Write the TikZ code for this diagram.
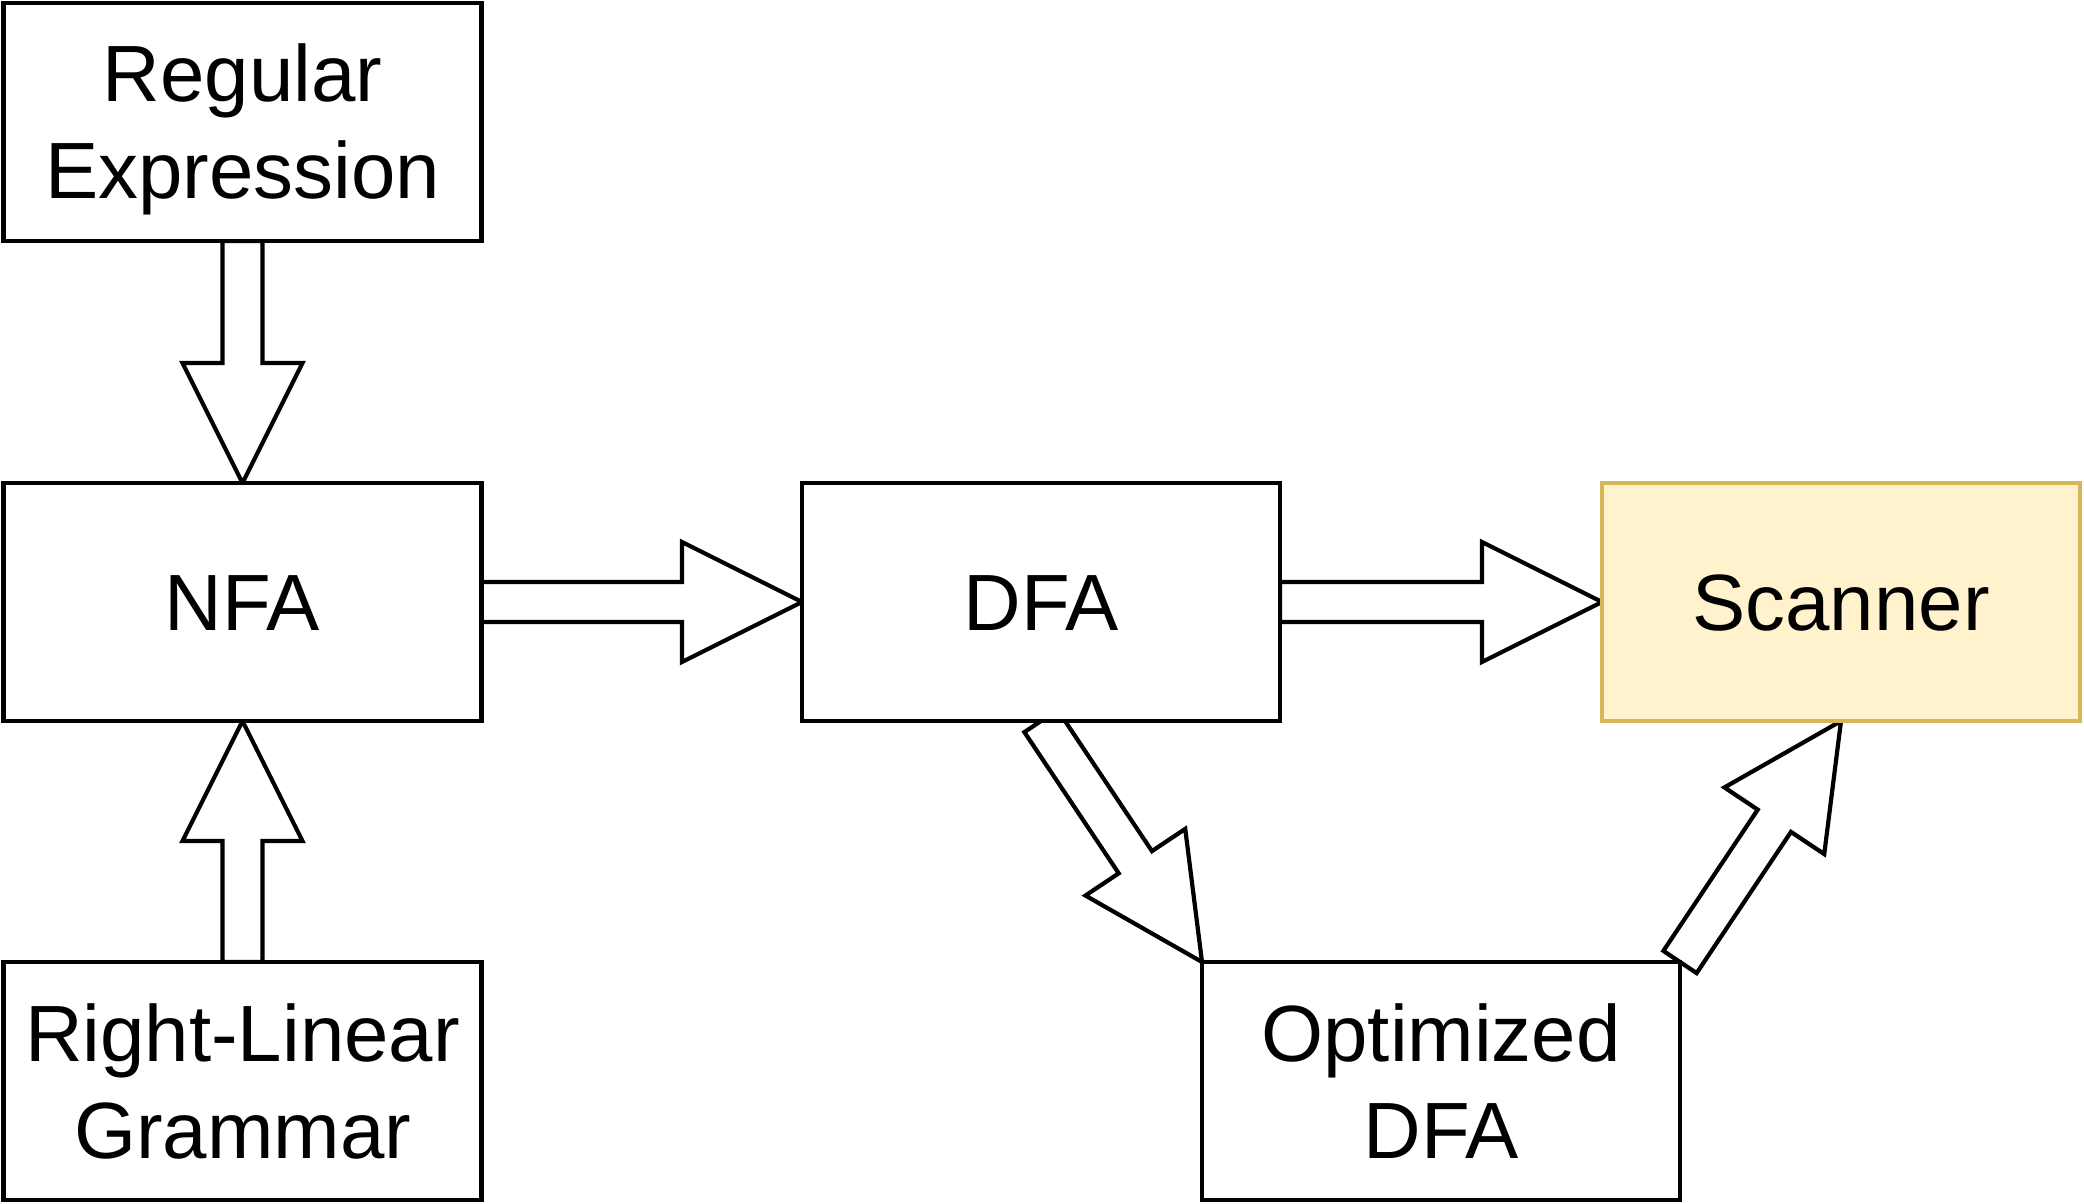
\documentclass[tikz,border=0pt]{standalone}
\usepackage{fontspec}
\setmainfont{Liberation Sans}
\usetikzlibrary{calc,backgrounds}
\definecolor{scanfill}{HTML}{FFF2CC}
\definecolor{scandraw}{HTML}{D6B656}
\tikzset{
  box/.style={draw=black, fill=white, line width=2.1pt, minimum width=239pt,
    minimum height=119pt, inner sep=0pt, outer sep=0pt,
    font=\fontsize{39.9pt}{48.5pt}\selectfont, text height=28.5pt, text depth=0pt},
  twoline/.style={text width=236pt, align=center, text depth=48.5pt},
  scanbox/.style={box, draw=scandraw, fill=scanfill},
  fatarr/.style={draw=black, fill=white, line width=2.1pt, line join=miter},
}
% block arrow from #1 to #2: shaft half width 10pt, head half width 30pt, head length 60pt
\newcommand\fatarrow[2]{%
  \coordinate (fah) at ($(#2)!60pt!(#1)$);
  \draw[fatarr] ($(#1)!10pt!90:(#2)$) -- ($(fah)!10pt!90:(#2)$) -- ($(fah)!30pt!90:(#2)$)
    -- (#2) -- ($(fah)!30pt!-90:(#2)$) -- ($(fah)!10pt!-90:(#2)$)
    -- ($(#1)!10pt!-90:(#2)$) -- cycle;
}
\begin{document}
\begin{tikzpicture}[x=0.5pt, y=-0.5pt]
  \useasboundingbox (0,0) rectangle (2084,1204);
  \node[box, twoline] (reg) at (242.5,122) {Regular\\Expression};
  \node[box] (nfa) at (242.5,602) {NFA};
  \node[box, twoline] (rlg) at (242.5,1081) {Right-Linear\\Grammar};
  \node[box] (dfa) at (1041,602) {DFA};
  \node[scanbox] (scan) at (1841,602) {Scanner};
  \node[box, twoline] (opt) at (1441,1081) {Optimized\\DFA};
  \begin{pgfonlayer}{background}
    \fatarrow{reg.south}{nfa.north}
    \fatarrow{rlg.north}{nfa.south}
    \fatarrow{nfa.east}{dfa.west}
    \fatarrow{dfa.east}{scan.west}
    \fatarrow{dfa.south}{opt.north west}
    \fatarrow{opt.north east}{scan.south}
  \end{pgfonlayer}
\end{tikzpicture}
\end{document}
